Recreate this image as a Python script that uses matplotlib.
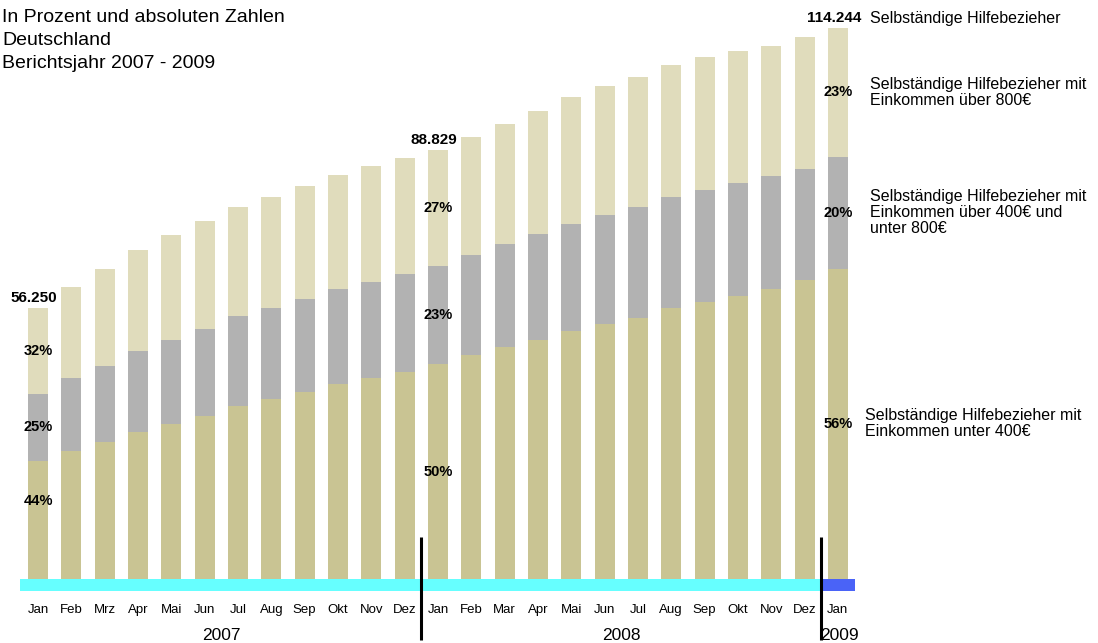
import matplotlib
matplotlib.use("Agg")
import matplotlib.pyplot as plt

plt.rcParams['font.family'] = ['Liberation Sans', 'DejaVu Sans']

months = ["Jan", "Feb", "Mrz", "Apr", "Mai", "Jun", "Jul", "Aug", "Sep", "Okt", "Nov", "Dez",
          "Jan", "Feb", "Mar", "Apr", "Mai", "Jun", "Jul", "Aug", "Sep", "Okt", "Nov", "Dez",
          "Jan"]
years = ["2007", "2008", "2009"]
year_of_bar = [0] * 12 + [1] * 12 + [2]

under400 = [24500, 26520, 28390, 30460, 32120, 33770, 35850, 37300, 38750, 40400, 41650, 42890,
            44500, 46410, 48070, 49520, 51390, 52840, 54080, 56150, 57390, 58640, 60090, 61950,
            64300]
mid400_800 = [13900, 15130, 15750, 16780, 17410, 18030, 18650, 18860, 19270, 19680, 19890, 20310,
              20300, 20720, 21340, 21960, 22170, 22590, 23000, 23000, 23210, 23410, 23410, 23000,
              23200]
over800 = [17850, 18860, 20100, 20930, 21760, 22380, 22590, 23000, 23410, 23620, 24040, 24040,
           24029, 24450, 24860, 25490, 26310, 26730, 26940, 27350, 27560, 27350, 26940, 27350,
           26744]

series_labels = [
    "Selbständige Hilfebezieher mit\nEinkommen unter 400€",
    "Selbständige Hilfebezieher mit\nEinkommen über 400€ und\nunter 800€",
    "Selbständige Hilfebezieher mit\nEinkommen über 800€",
]
total_label = "Selbständige Hilfebezieher"
header_lines = ["In Prozent und absoluten Zahlen", "Deutschland", "Berichtsjahr 2007 - 2009"]
labelled_bars = [0, 12, 24]

c_low = "#C9C493"
c_mid = "#B2B2B2"
c_high = "#E0DCBC"
c_band = "#66FFFF"
c_band2 = "#4A63F7"

W, H = 1098, 643
fig = plt.figure(figsize=(W / 100, H / 100), dpi=100)
ax = fig.add_axes([0, 0, 1, 1])
ax.axis('off')

px_x = 33.33      # pixels per bar slot
px_y = 1 / 207.2  # pixels per person
x0_px = 38
base_px = 579     # baseline from top

ax.set_xlim(-x0_px / px_x, (W - x0_px) / px_x)
ax.set_ylim(-(H - base_px) / px_y, base_px / px_y)

n = len(months)
xs = list(range(n))
bw = 20 / px_x
bottom2 = [a + b for a, b in zip(under400, mid400_800)]
totals = [a + b + c for a, b, c in zip(under400, mid400_800, over800)]

ax.bar(xs, under400, width=bw, color=c_low, linewidth=0)
ax.bar(xs, mid400_800, bottom=under400, width=bw, color=c_mid, linewidth=0)
ax.bar(xs, over800, bottom=bottom2, width=bw, color=c_high, linewidth=0)

# timeline band
band_lo = -12 / px_y
ax.fill_between([-0.55, 23.5], band_lo, 0, color=c_band, linewidth=0)
ax.fill_between([23.5, 24.5], band_lo, 0, color=c_band2, linewidth=0)

# year separators
for xv in [11.5, 23.5]:
    ax.plot([xv, xv], [42 / px_y, -61 / px_y], color="black", lw=2.2, solid_capstyle='butt')

# month labels
for i, m in enumerate(months):
    ax.text(i, -31 / px_y, m, ha='center', va='center', fontsize=9.5)

# year labels
yc = {}
for i, yi in enumerate(year_of_bar):
    yc.setdefault(yi, []).append(i)
for yi, idx in yc.items():
    ax.text(sum(idx) / len(idx) + (0.05 if len(idx) == 1 else 0), -57 / px_y, years[yi],
            ha='center', va='center', fontsize=12.5)

def fmt(v):
    return f"{v:,}".replace(",", ".")

for i in labelled_bars:
    t = totals[i]
    ax.text(i - 0.12, t + 3 / px_y, fmt(t), ha='center', va='bottom',
            fontsize=11, fontweight='bold')
    segs = [(0, under400[i]), (under400[i], mid400_800[i]), (bottom2[i], over800[i])]
    for k, (b, h) in enumerate(segs):
        yv = b + h / 2
        if i == 0 and k == 0:
            yv = b + h * 0.66
        ax.text(i, yv, f"{round(100 * h / t)}%", ha='center', va='center',
                fontsize=10.5, fontweight='bold')

# header
for k, line in enumerate(header_lines):
    fig.text(2 / W, 1 - (17 + 23.5 * k) / H, line, ha='left', va='center', fontsize=14)

# right annotations
last = n - 1
fig.text(870 / W, 1 - 19 / H, total_label, ha='left', va='center', fontsize=11.5)
ann_x = [865, 870, 870]
for s, (b, h) in enumerate([(0, under400[last]), (under400[last], mid400_800[last]),
                            (bottom2[last], over800[last])]):
    yv = b + h / 2
    ax.annotate(series_labels[s], xy=(last, yv), xycoords='data',
                xytext=(ann_x[s], yv), textcoords=('figure pixels', 'data'),
                ha='left', va='center', fontsize=11.5, linespacing=1.1)

fig.savefig("out.png", dpi=100)
